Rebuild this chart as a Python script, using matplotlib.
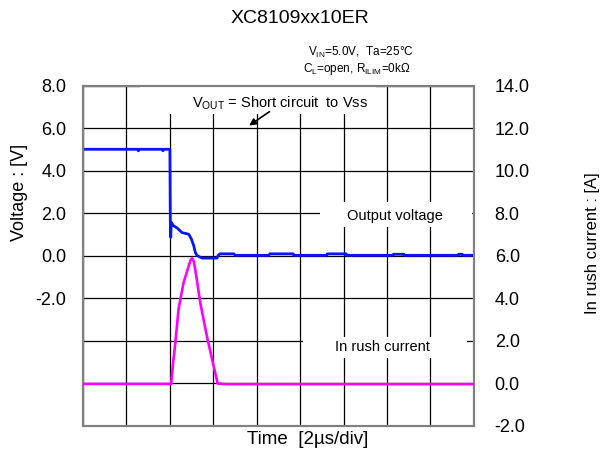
import matplotlib
matplotlib.use('Agg')
import matplotlib.pyplot as plt
from matplotlib.patches import Rectangle

plt.rcParams['font.family'] = ['Liberation Sans', 'DejaVu Sans']
plt.rcParams['axes.unicode_minus'] = False

# time in us (2 us per division)
t_vout = [0.00, 2.50, 2.55, 2.60, 3.63, 3.68, 3.73, 4.00, 4.02, 4.04, 4.06,
          4.17, 4.33, 4.56, 4.87, 4.99, 5.10, 5.17, 5.25, 5.48, 6.17, 6.22,
          6.30, 6.94, 7.02, 8.56, 8.60, 9.68, 9.71, 11.22, 11.25, 12.12,
          12.15, 14.26, 14.30, 14.78, 14.80, 17.26, 17.30, 17.46, 17.49, 18.00]
vout = [5.02, 5.02, 4.95, 5.02, 5.02, 4.95, 5.02, 5.02, 1.60, 0.88, 1.58,
        1.42, 1.32, 1.10, 1.02, 0.80, 0.48, 0.17, 0.02, -0.10, -0.10, 0.02,
        0.10, 0.10, 0.03, 0.03, 0.10, 0.10, 0.03, 0.03, 0.10, 0.10,
        0.03, 0.03, 0.08, 0.08, 0.03, 0.03, 0.08, 0.08, 0.03, 0.03]

t_irush = [0.00, 4.06, 4.15, 4.25, 4.40, 4.63, 4.86, 4.95, 5.02, 5.10,
           5.17, 5.40, 5.71, 6.02, 6.20, 6.60, 18.00]
irush = [-0.02, -0.02, 1.00, 1.90, 3.50, 4.74, 5.50, 5.80, 5.90, 5.75,
         5.36, 3.80, 2.20, 0.80, 0.00, -0.03, -0.03]

x_ticks = list(range(0, 19, 2))
v_ticks = list(range(-8, 9, 2))
v_labels = ['' if v < -2 else f'{v:.1f}' for v in v_ticks]
i_ticks = list(range(-2, 15, 2))
i_labels = [f'{i:.1f}' for i in i_ticks]

fig = plt.figure(figsize=(6.06, 4.54), dpi=100)
ax = fig.add_axes([0.137, 0.0617, 0.645, 0.749])
ax2 = ax.twinx()

ax.set_xlim(0, 18)
ax.set_ylim(-8, 8)
ax2.set_ylim(-2, 14)
ax.set_xticks(x_ticks)
ax.set_xticklabels([])
ax.set_yticks(v_ticks)
ax.set_yticklabels(v_labels, fontsize=13)
ax2.set_yticks(i_ticks)
ax2.set_yticklabels(i_labels, fontsize=13)
ax.tick_params(axis='both', length=0)
ax.tick_params(axis='y', pad=12)
ax2.tick_params(axis='y', length=0, pad=15)

ax.set_axisbelow(True)
ax.grid(True, color='black', linewidth=0.9)
for a in (ax, ax2):
    for s in a.spines.values():
        s.set_color('#808080')
        s.set_linewidth(1.5)

# white label boxes that cut the grid
tr = ax.transAxes
for x0, y0, x1, y1 in [(0.146, 0.918, 0.749, 1.0),
                       (0.606, 0.585, 0.995, 0.659),
                       (0.564, 0.200, 0.982, 0.262)]:
    ax.add_patch(Rectangle((x0, y0), x1 - x0, y1 - y0, transform=tr,
                           facecolor='white', edgecolor='none', zorder=1))

ax.plot(t_vout, vout, color='#0a14ff', linewidth=2.0, zorder=3)
ax2.plot(t_irush, irush, color='#ff00ff', linewidth=1.9, zorder=3)

ax.text(0.505, 0.95, r'$\mathregular{V_{OUT}}$ = Short circuit  to Vss',
        transform=tr, ha='center', va='center', fontsize=10.5, zorder=4)
ax.annotate('', xy=(0.419, 0.879), xytext=(0.483, 0.929), xycoords=tr,
            arrowprops=dict(arrowstyle='-|>', color='black', lw=1.2,
                            mutation_scale=10), zorder=4)
ax.text(0.798, 0.618, 'Output voltage', transform=tr, ha='center',
        va='center', fontsize=10.5, zorder=4)
ax.text(0.767, 0.232, 'In rush current', transform=tr, ha='center',
        va='center', fontsize=10.5, zorder=4)

fig.text(0.495, 0.96, 'XC8109xx10ER', ha='center', va='center', fontsize=14)
fig.text(0.682, 0.885, r'$\mathregular{V_{IN}}$=5.0V,  Ta=25°C',
         ha='right', va='center', fontsize=8.5)
fig.text(0.677, 0.848, r'$\mathregular{C_L}$=open, $\mathregular{R_{ILIM}}$=0kΩ',
         ha='right', va='center', fontsize=8.5)
fig.text(0.033, 0.577, 'Voltage : [V]', rotation=90, ha='center',
         va='center', fontsize=13)
fig.text(0.978, 0.465, 'In rush current : [A]', rotation=90, ha='center',
         va='center', fontsize=12)
fig.text(0.507, 0.031, 'Time  [2µs/div]', ha='center', va='center',
         fontsize=13.5)

fig.savefig('out.png', dpi=100)
